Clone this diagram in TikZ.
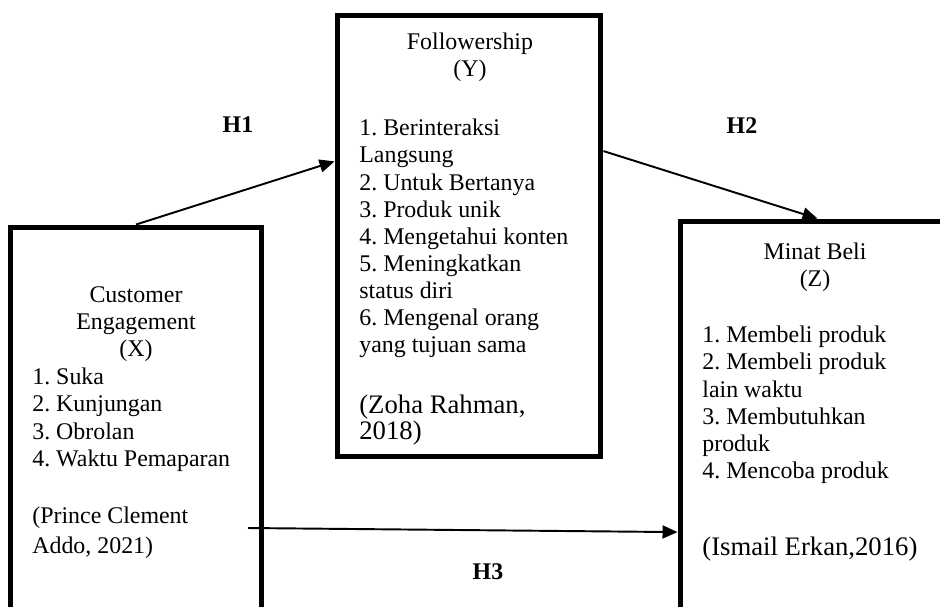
\documentclass[tikz,border=0pt]{standalone}
\usepackage{fontspec}
\setmainfont{Liberation Serif}
\usetikzlibrary{arrows.meta,calc}
\frenchspacing
\begin{document}
\begin{tikzpicture}[x=0.02cm, y=-0.02cm]
  \tikzstyle{varbox}=[rectangle, draw, line width=2.85pt, inner sep=0pt]
  \tikzstyle{txt}=[inner sep=0pt, font=\fontsize{13.6}{15.4}\selectfont]
  \tikzstyle{bigtxt}=[inner sep=0pt, font=\fontsize{15.2}{14.8}\selectfont]
  \tikzstyle{hyp}=[inner sep=0pt, font=\fontsize{13.6}{15.4}\selectfont\bfseries]
  \tikzstyle{arrow}=[-{Triangle[length=0.3cm, width=0.26cm]}, line width=1.1pt]

  \useasboundingbox (0,0) rectangle (940,606);
  \clip (0,0) rectangle (940,606);

  % Kotak variabel
  \node[varbox, minimum width=5.04cm, minimum height=8.46cm] (xbox) at (136,438.5) {};
  \node[varbox, minimum width=5.28cm, minimum height=8.84cm] (ybox) at (469,236) {};
  \node[varbox, minimum width=5.5cm, minimum height=8.58cm] (zbox) at (817.5,435.5) {};

  % Customer Engagement (X)
  \node[txt, align=center, anchor=north] (xhead) at (136,286) {Customer\\Engagement\\(X)};
  \node[txt, align=left, anchor=north west] (xlist) at (32,368)
    {1. Suka\\2. Kunjungan\\3. Obrolan\\4. Waktu Pemaparan};
  \node[txt, font=\fontsize{13.6}{17}\selectfont, align=left, anchor=north west] (xref) at (32,507)
    {(Prince Clement\\Addo, 2021)};

  % Followership (Y)
  \node[txt, align=center, anchor=north] (yhead) at (470,33) {Followership\\(Y)};
  \node[txt, align=left, anchor=north west] (ylist) at (359,119)
    {1. Berinteraksi\\Langsung\\2. Untuk Bertanya\\3. Produk unik\\4. Mengetahui konten\\5. Meningkatkan\\status diri\\6. Mengenal orang\\yang tujuan sama};
  \node[bigtxt, align=left, anchor=north west] (yref) at (359,395) {(Zoha Rahman,\\2018)};

  % Minat Beli (Z)
  \node[txt, align=center, anchor=north] (zhead) at (815,243) {Minat Beli\\(Z)};
  \node[txt, align=left, anchor=north west] (zlist) at (702,326)
    {1. Membeli produk\\2. Membeli produk\\lain waktu\\3. Membutuhkan\\produk\\4. Mencoba produk};
  \node[bigtxt, anchor=north west] (zref) at (702,537) {(Ismail Erkan,2016)};

  % Hipotesis
  \coordinate (h3start) at (248,528);
  \draw[arrow] (xbox.north) -- ($(ybox.north west)!0.333!(ybox.south west)$);
  \draw[arrow] ($(ybox.north east)!0.31!(ybox.south east)$) -- (zbox.north);
  \draw[arrow] (h3start) -- ($(zbox.north west)!0.7226!(zbox.south west)$);

  \node[hyp] (h1) at (238,125) {H1};
  \node[hyp] (h2) at (742,126) {H2};
  \node[hyp] (h3) at (488,572) {H3};
\end{tikzpicture}
\end{document}
